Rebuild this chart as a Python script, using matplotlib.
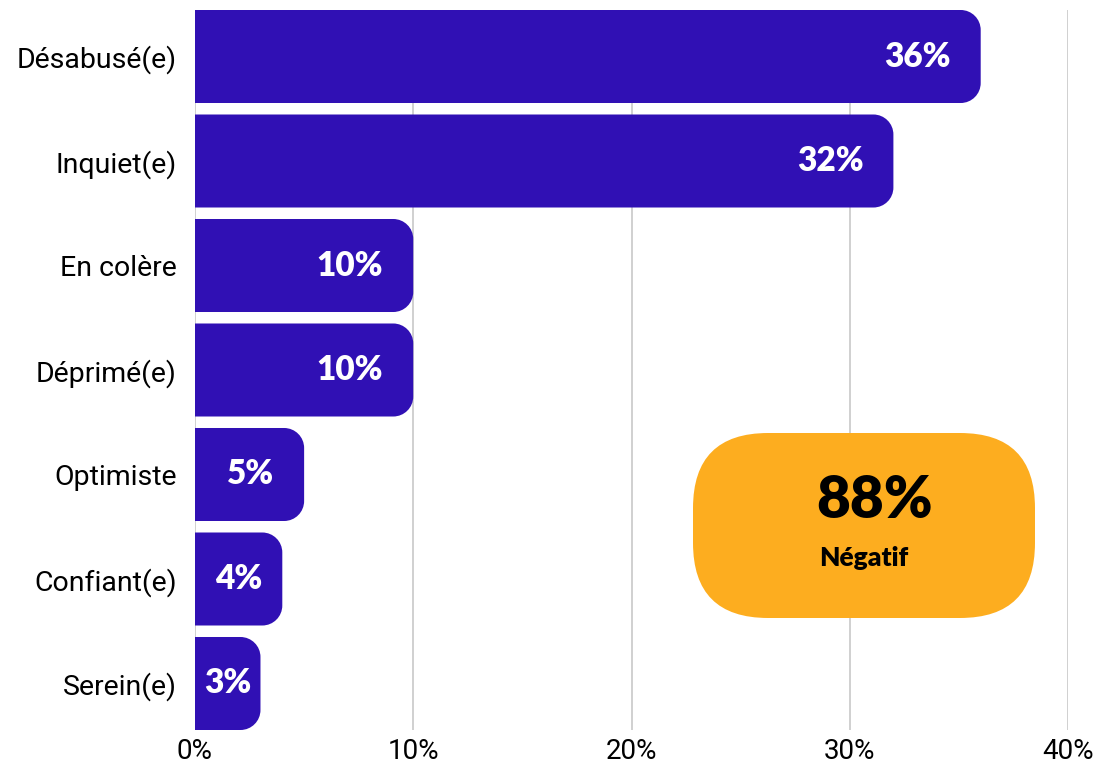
import numpy as np
import matplotlib.pyplot as plt
from matplotlib.path import Path
from matplotlib.patches import PathPatch, FancyBboxPatch

# Survey answers, in percent
categories = ['Désabusé(e)', 'Inquiet(e)', 'En colère', 'Déprimé(e)',
              'Optimiste', 'Confiant(e)', 'Serein(e)']
values = [36, 32, 10, 10, 5, 4, 3]
xticks = [0, 10, 20, 30, 40]
summary_value = '88%'
summary_label = 'Négatif'

bar_color = '#3010b4'
box_color = '#fdad1f'
bar_h = 0.89
radius_px = 20

fig = plt.figure(figsize=(11.04, 7.71), dpi=100)
ax = fig.add_axes([195/1104, 41/771, 873/1104, 720/771])
ax.set_xlim(0, 40)
ax.set_ylim(len(values) - 1 + bar_h/2, -bar_h/2)

# pixel -> data scale factors
px_x = 40 / 873.0
px_y = (len(values) - 1 + bar_h) / 720.0


def round_right_bar(y, w, h):
	rx = min(radius_px * px_x, w / 2)
	ry = radius_px * px_y
	k = 0.5523
	y0, y1 = y - h/2, y + h/2
	verts = [(0, y0), (w - rx, y0),
	         (w - rx + k*rx, y0), (w, y0 + ry - k*ry), (w, y0 + ry),
	         (w, y1 - ry),
	         (w, y1 - ry + k*ry), (w - rx + k*rx, y1), (w - rx, y1),
	         (0, y1), (0, y0)]
	codes = [Path.MOVETO, Path.LINETO,
	         Path.CURVE4, Path.CURVE4, Path.CURVE4,
	         Path.LINETO,
	         Path.CURVE4, Path.CURVE4, Path.CURVE4,
	         Path.LINETO, Path.CLOSEPOLY]
	return PathPatch(Path(verts, codes), facecolor=bar_color, edgecolor='none', zorder=3)


for i, v in enumerate(values):
	ax.add_patch(round_right_bar(i, v, bar_h))
	if v >= 5:
		ax.text(v - 30 * px_x, i, '{0}%'.format(v), ha='right', va='center',
		        color='white', fontsize=24, fontweight='heavy', family='Lato', zorder=4)
	else:
		ax.text(v / 2, i, '{0}%'.format(v), ha='center', va='center',
		        color='white', fontsize=24, fontweight='heavy', family='Lato', zorder=4)

ax.set_yticks(range(len(categories)))
ax.set_yticklabels(categories, family='Roboto', fontsize=20.5)
ax.set_xticks(xticks)
ax.set_xticklabels(['{0}%'.format(t) for t in xticks], family='Roboto', fontsize=20)
ax.tick_params(length=0)
ax.tick_params(axis='x', pad=6)
ax.tick_params(axis='y', pad=13)
ax.grid(axis='x', color='#c8c8c8', linewidth=1.2, zorder=0)
for s in ax.spines.values():
	s.set_visible(False)

# Summary box
box = FancyBboxPatch((693/1104, (771-618)/771), (1035-693)/1104, (618-433)/771,
                     boxstyle='round,pad=0,rounding_size=0.068',
                     mutation_aspect=1104/771,
                     transform=fig.transFigure, facecolor=box_color, edgecolor='none', zorder=5)
fig.patches.append(box)
fig.text(875/1104, 1 - 500/771, summary_value, ha='center', va='center',
         fontsize=42, fontweight='heavy', family='Lato', color='black', zorder=6)
fig.text(864/1104, 1 - 558/771, summary_label, ha='center', va='center',
         fontsize=19, fontweight='heavy', family='Lato', color='black', zorder=6)

plt.savefig('out.png', dpi=100)
